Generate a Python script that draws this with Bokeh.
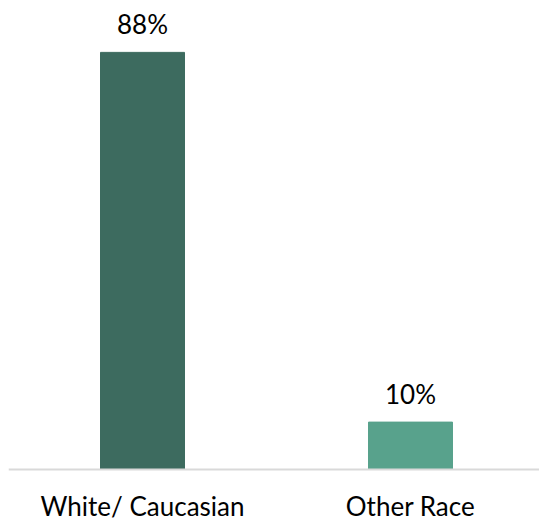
from bokeh.plotting import figure
from bokeh.models import ColumnDataSource, LabelSet, Range1d, Span
from bokeh.embed import file_html
from bokeh.resources import INLINE
from bokeh.core.properties import value

categories = ["White/ Caucasian", "Other Race"]
positions = [0.5, 1.5]
percents = [88, 10]
labels = ["88%", "10%"]
colors = ["#3d6b5f", "#58a28c"]

source = ColumnDataSource(dict(x=positions, val=percents, lab=labels, col=colors,
                               cat=categories, zero=[0, 0]))

PX = 4.74   # pixels per percent
CW = 268.0  # pixels per category
W, H = 539, 521
p = figure(x_range=Range1d(0, (W - 8) / CW), y_range=Range1d(-(H - 469) / PX, 469 / PX),
           width=W, height=H,
           x_axis_location=None, y_axis_location=None,
           output_backend="svg", toolbar_location=None,
           min_border_left=8, min_border_right=0, min_border_top=0, min_border_bottom=0)

p.vbar(x="x", top="val", width=84 / CW, color="col", source=source)

p.add_layout(Span(location=0, dimension="width", line_color="#d9d9d9", line_width=2))

p.add_layout(LabelSet(x="x", y="val", text="lab", source=source,
                      text_align="center", text_baseline="alphabetic", y_offset=18,
                      text_font=value("Lato"), text_font_size="26px",
                      text_color="#000000"))

p.add_layout(LabelSet(x="x", y="zero", text="cat", source=source,
                      text_align="center", text_baseline="alphabetic", y_offset=-46,
                      text_font=value("Lato"), text_font_size="26px",
                      text_color="#000000"))

p.xgrid.visible = False
p.ygrid.visible = False
p.outline_line_color = None

open("out.html", "w").write(file_html(p, INLINE))
